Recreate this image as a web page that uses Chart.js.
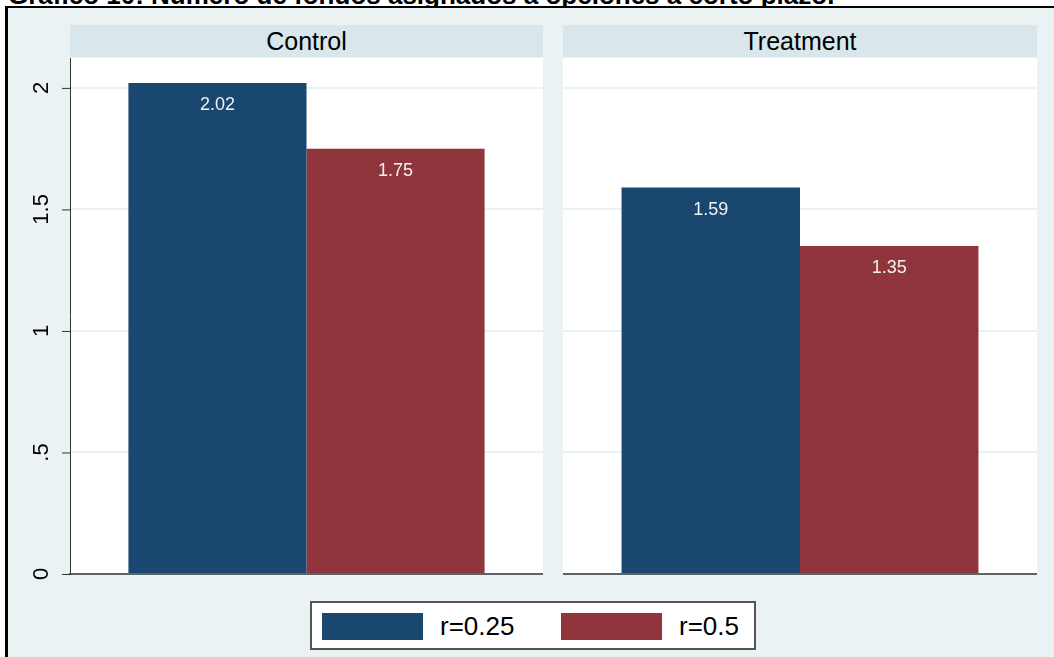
<!DOCTYPE html>
<html>
<head>
<meta charset="utf-8">
<script src="https://cdn.jsdelivr.net/npm/chart.js@4"></script>
<style>
  body { margin: 0; width: 1054px; height: 657px; overflow: hidden; background: #fff; font-family: "Liberation Sans", Arial, sans-serif; position: relative; }
  #title { position: absolute; left: 8px; top: -18px; font-weight: bold; font-size: 26px; line-height: 26px; white-space: nowrap; color: #000; }
  #frame { position: absolute; left: 5px; top: 6px; right: 0; bottom: 0; border-top: 2px solid #000; border-left: 3px solid #000; background: #eaf2f3; }
  .strip { position: absolute; top: 25px; height: 32px; background: #d9e6eb; font-size: 25px; line-height: 32px; text-align: center; color: #000; }
  .panel { position: absolute; top: 58px; height: 530px; }
  #legend { position: absolute; left: 310px; top: 601px; width: 442px; height: 45px; background: #fff; border: 2px solid #555; }
  .sw { position: absolute; top: 10px; width: 101px; height: 27px; }
  .lt { position: absolute; top: 6px; font-size: 26px; line-height: 34px; color: #000; }
</style>
</head>
<body>
<div id="title">Gráfico 10: Número de fondos asignados a opciones a corto plazo.</div>
<div id="frame"></div>
<div class="strip" id="s0" style="left:70px;width:473px;"></div>
<div class="strip" id="s1" style="left:563px;width:474px;"></div>
<div class="panel" style="left:0;width:543px;"><canvas id="c0"></canvas></div>
<div class="panel" style="left:563px;width:474px;"><canvas id="c1"></canvas></div>
<div id="legend">
  <div class="sw" id="sw0" style="left:10px;"></div><div class="lt" id="lt0" style="left:128px;"></div>
  <div class="sw" id="sw1" style="left:249px;"></div><div class="lt" id="lt1" style="left:367px;"></div>
</div>
<script>
// data
const panels = ["Control", "Treatment"];
const seriesNames = ["r=0.25", "r=0.5"];
const r025 = [2.02, 1.59];
const r05 = [1.75, 1.35];
const yTicks = [0, 0.5, 1, 1.5, 2];
const yTickLabels = ["0", ".5", "1", "1.5", "2"];
const colors = ["#1a476f", "#90353b"];

document.getElementById("s0").textContent = panels[0];
document.getElementById("s1").textContent = panels[1];
seriesNames.forEach((n, i) => {
  document.getElementById("sw" + i).style.background = colors[i];
  document.getElementById("lt" + i).textContent = n;
});

// value labels inside bars + rotated y tick labels and tick marks
const labelPlugin = {
  id: "labels",
  afterDatasetsDraw(chart) {
    const ctx = chart.ctx;
    ctx.save();
    ctx.fillStyle = "#f2f2f2";
    ctx.font = "18px 'Liberation Sans', Arial";
    ctx.textAlign = "center";
    ctx.textBaseline = "middle";
    chart.data.datasets.forEach((ds, i) => {
      chart.getDatasetMeta(i).data.forEach((bar, j) => {
        ctx.fillText(ds.data[j].toFixed(2), bar.x, bar.y + 22);
      });
    });
    ctx.restore();
  },
  afterDraw(chart) {
    if (!chart.options.plugins.labels || !chart.options.plugins.labels.yLabels) return;
    const ctx = chart.ctx;
    const y = chart.scales.y;
    const left = chart.chartArea.left;
    ctx.save();
    ctx.fillStyle = "#000";
    ctx.strokeStyle = "#333";
    ctx.lineWidth = 1;
    ctx.font = "22px 'Liberation Sans', Arial";
    ctx.textAlign = "center";
    ctx.textBaseline = "middle";
    yTicks.forEach((v, i) => {
      const py = y.getPixelForValue(v);
      ctx.beginPath();
      ctx.moveTo(left - 8, py + 0.5);
      ctx.lineTo(left, py + 0.5);
      ctx.stroke();
      ctx.save();
      ctx.translate(42, py);
      ctx.rotate(-Math.PI / 2);
      ctx.fillText(yTickLabels[i], 0, 0);
      ctx.restore();
    });
    ctx.restore();
  }
};

function makeChart(id, idx, withAxis) {
  return new Chart(document.getElementById(id), {
    type: "bar",
    data: {
      labels: [panels[idx]],
      datasets: [
        { label: seriesNames[0], data: [r025[idx]], backgroundColor: colors[0] },
        { label: seriesNames[1], data: [r05[idx]], backgroundColor: colors[1] }
      ]
    },
    options: {
      responsive: false,
      animation: false,
      layout: { padding: { top: 0, bottom: 14, left: 0, right: 0 } },
      datasets: { bar: { categoryPercentage: 0.753, barPercentage: 1 } },
      plugins: { legend: { display: false }, tooltip: { enabled: false }, labels: { yLabels: withAxis } },
      scales: {
        x: {
          grid: { display: false },
          ticks: { display: false },
          border: { display: true, color: "#5b6468", width: 2 },
          afterFit: s => { s.height = 0; }
        },
        y: {
          min: 0,
          max: 2.123,
          ticks: { stepSize: 0.5, includeBounds: false, display: false },
          grid: { color: "#eaf2f3", lineWidth: 2, drawTicks: false },
          border: { display: withAxis, color: "#333", width: 1 },
          afterFit: s => { s.width = withAxis ? 70 : 0; }
        }
      }
    },
    plugins: [labelPlugin, {
      id: "bg",
      beforeDraw(chart) {
        const a = chart.chartArea;
        chart.ctx.save();
        chart.ctx.fillStyle = "#fff";
        chart.ctx.fillRect(a.left, a.top, a.right - a.left, a.bottom - a.top);
        chart.ctx.restore();
      }
    }]
  });
}

document.getElementById("c0").width = 543;
document.getElementById("c0").height = 530;
document.getElementById("c1").width = 474;
document.getElementById("c1").height = 530;
makeChart("c0", 0, true);
makeChart("c1", 1, false);
</script>
</body>
</html>
